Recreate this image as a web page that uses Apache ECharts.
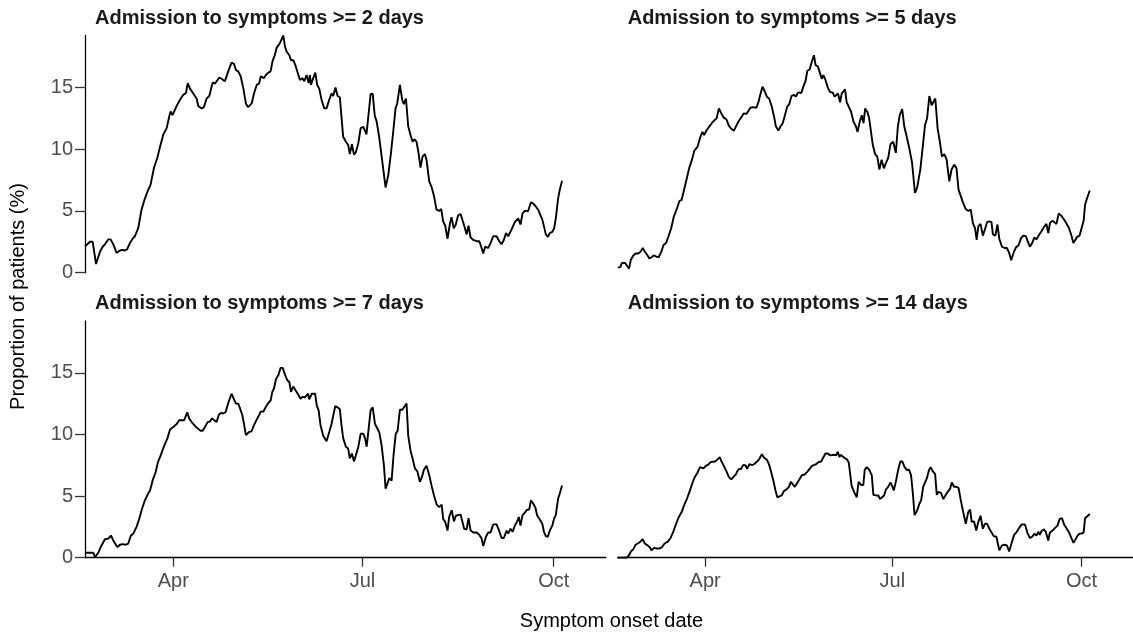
<!DOCTYPE html>
<html><head><meta charset="utf-8">
<script src="https://cdn.jsdelivr.net/npm/echarts@6/dist/echarts.min.js"></script>
<style>html,body{margin:0;padding:0;background:#fff}#c{width:1133px;height:636px}</style>
</head><body><div id="c"></div><script>
// x values: days since 1 April 2020
const panelTitles = ['Admission to symptoms >= 2 days','Admission to symptoms >= 5 days','Admission to symptoms >= 7 days','Admission to symptoms >= 14 days'];
const xTitle = 'Symptom onset date';
const yTitle = 'Proportion of patients (%)';
const monthTickDays = [0, 91, 183];
const monthTickLabels = ['Apr', 'Jul', 'Oct'];
const yTicks = [0, 5, 10, 15];
const xMin = -42.5, xMax = 208, yMax = 19.2;

const p2days = [[-42.5,2.13],[-40.1,2.5],[-38.8,2.5],[-37.2,0.7],[-35.3,1.7],[-34.0,2.1],[-32.9,2.3],[-31.3,2.7],[-30.2,2.7],[-28.9,2.3],[-27.3,1.6],[-25.7,1.8],[-24.4,1.85],[-23.3,1.8],[-22.2,1.9],[-20.9,2.4],[-19.6,2.75],[-18.5,2.95],[-16.9,3.6],[-15.3,5.1],[-13.7,6.0],[-12.1,6.7],[-11.0,7.1],[-9.3,8.5],[-7.7,9.3],[-6.4,10.2],[-4.8,11.2],[-3.2,11.7],[-1.9,12.7],[-1.3,13.05],[-0.4,12.75],[1.6,13.5],[3.2,14.0],[4.8,14.4],[6.1,14.55],[6.9,15.35],[8.0,14.9],[9.6,14.5],[11.2,14.1],[12.0,13.5],[13.6,13.3],[14.7,13.4],[16.0,14.1],[17.3,14.3],[18.9,15.4],[20.0,15.3],[20.8,15.25],[22.1,15.8],[23.2,15.7],[24.8,15.5],[26.4,16.3],[28.0,17.0],[29.2,16.9],[30.1,16.4],[31.2,16.3],[32.4,15.9],[33.7,14.9],[34.9,13.7],[36.0,13.4],[37.7,13.7],[38.8,14.5],[40.1,15.2],[41.2,15.3],[42.1,15.9],[43.6,15.75],[44.5,16.0],[45.7,16.2],[46.8,16.3],[47.7,17.1],[48.8,17.6],[49.7,18.2],[50.5,18.3],[51.3,18.6],[51.8,18.5],[52.9,19.2],[53.7,18.3],[54.5,17.9],[55.8,17.6],[56.6,17.2],[57.7,17.2],[58.7,16.8],[59.6,16.3],[60.9,15.6],[62.0,15.75],[63.0,15.5],[64.1,16.0],[65.1,15.35],[65.7,16.0],[66.2,15.2],[67.3,15.75],[68.3,16.2],[69.2,15.2],[70.2,14.9],[71.3,14.0],[72.6,13.3],[73.7,13.3],[75.0,14.0],[76.1,14.5],[76.9,14.3],[78.0,15.0],[79.0,14.3],[80.1,14.2],[81.7,11.0],[83.0,10.6],[84.1,10.35],[84.9,9.6],[85.9,10.4],[86.9,9.55],[87.8,9.75],[89.0,10.5],[90.1,11.7],[91.4,11.8],[92.3,11.85],[92.9,11.2],[93.9,12.8],[94.9,14.45],[95.9,14.5],[96.9,12.7],[97.8,12.25],[99.1,10.9],[100.3,9.3],[102.1,6.9],[103.4,7.9],[104.6,9.55],[105.8,11.45],[106.9,13.3],[107.7,13.7],[109.0,15.2],[110.1,14.0],[110.9,13.65],[111.9,14.1],[113.0,11.85],[114.1,11.15],[115.1,10.6],[116.0,10.8],[117.0,10.6],[117.9,9.75],[118.9,8.5],[119.9,9.4],[121.0,9.6],[121.8,9.15],[123.1,7.4],[124.3,6.9],[125.4,6.2],[126.6,5.1],[127.9,5.0],[128.9,5.15],[129.8,4.15],[130.8,3.8],[131.9,2.75],[133.0,3.9],[133.8,4.5],[134.9,3.6],[135.9,3.9],[137.0,4.65],[138.2,4.75],[139.1,4.7],[140.3,3.6],[141.1,3.1],[142.0,3.8],[143.0,2.85],[144.3,2.65],[145.9,2.55],[147.2,2.55],[148.3,2.0],[149.1,1.55],[150.0,2.1],[151.5,2.0],[152.6,2.4],[153.9,2.95],[155.5,2.95],[156.8,2.55],[157.9,2.3],[159.0,2.65],[160.0,3.2],[161.1,2.95],[162.7,3.5],[164.3,4.1],[165.9,4.4],[167.0,3.9],[168.0,4.8],[169.1,5.0],[170.7,5.0],[172.0,5.7],[173.1,5.6],[174.2,5.4],[175.5,5.1],[176.3,5.0],[177.5,4.3],[178.3,3.75],[179.2,3.1],[180.2,2.9],[181.1,3.2],[182.3,3.3],[183.2,3.6],[184.0,4.4],[185.1,6.0],[185.9,6.7],[187.0,7.45]];

const p5days = [[-42.5,0.43],[-41.3,0.43],[-40.5,0.78],[-38.9,0.78],[-38.1,0.65],[-37.0,0.33],[-36.1,1.05],[-34.9,1.4],[-33.8,1.55],[-32.5,1.55],[-31.4,1.7],[-30.3,2.0],[-29.3,1.7],[-28.2,1.45],[-27.1,1.15],[-26.1,1.25],[-25.0,1.4],[-23.7,1.3],[-22.6,1.25],[-21.3,1.7],[-20.2,2.25],[-19.0,2.4],[-17.8,2.95],[-16.5,3.6],[-15.2,4.55],[-13.9,5.1],[-12.5,5.8],[-11.4,5.9],[-10.4,6.6],[-9.1,7.5],[-7.7,8.5],[-6.4,9.15],[-5.3,9.85],[-3.7,10.2],[-2.4,10.95],[-1.3,11.4],[-0.5,11.15],[0.8,11.55],[1.9,11.8],[3.2,12.1],[4.6,12.35],[5.6,12.5],[6.7,13.3],[8.0,12.85],[9.1,12.55],[10.4,12.4],[11.5,11.9],[12.7,11.65],[14.0,11.5],[15.2,11.9],[16.4,12.3],[17.5,12.55],[18.8,12.9],[20.1,12.85],[20.9,12.75],[22.0,13.35],[23.3,13.4],[24.9,13.35],[26.0,13.85],[26.8,14.4],[27.9,15.05],[29.2,14.6],[30.0,14.25],[31.1,14.1],[32.4,13.45],[33.5,12.65],[34.4,11.85],[35.6,11.5],[36.7,11.85],[37.7,12.1],[38.8,12.75],[39.9,13.45],[40.9,13.65],[42.0,14.3],[43.1,14.4],[44.1,14.25],[45.2,14.6],[46.0,14.65],[46.8,14.55],[47.6,15.0],[48.8,15.5],[49.7,16.35],[50.8,16.45],[51.9,17.1],[52.9,17.6],[53.7,16.8],[54.8,16.7],[55.6,16.55],[56.7,15.7],[57.5,16.0],[58.5,15.6],[59.6,15.0],[60.8,14.6],[62.0,14.6],[62.9,14.25],[63.7,14.1],[64.6,14.5],[65.6,13.8],[66.4,14.5],[67.2,14.65],[68.0,14.85],[68.8,13.8],[69.7,13.8],[70.9,13.05],[72.2,12.2],[73.3,11.85],[74.1,11.4],[75.2,12.25],[76.2,12.75],[77.0,12.1],[77.8,13.3],[78.9,13.0],[79.7,12.55],[80.5,12.4],[81.5,10.35],[82.6,9.6],[83.7,9.4],[84.7,8.35],[85.8,9.15],[86.9,8.45],[88.2,9.0],[89.0,9.3],[90.1,10.4],[91.4,10.6],[92.7,9.7],[93.7,11.85],[94.6,12.75],[95.8,13.25],[96.8,11.85],[97.8,11.15],[99.1,10.2],[100.6,8.9],[102.0,6.45],[103.1,6.9],[104.6,8.35],[105.8,10.2],[106.9,11.95],[107.9,12.5],[109.0,14.3],[110.1,13.55],[110.9,13.65],[111.9,14.1],[113.0,11.7],[114.2,10.5],[115.1,9.4],[116.3,9.6],[117.4,9.15],[118.7,7.4],[119.8,8.35],[121.1,8.75],[122.2,8.45],[123.2,6.7],[124.3,6.2],[125.4,5.65],[126.7,5.15],[128.0,5.0],[129.1,5.1],[130.2,4.0],[131.2,3.6],[132.0,2.65],[132.8,3.75],[133.9,3.95],[135.0,3.0],[136.0,3.5],[137.1,4.1],[138.2,4.15],[139.2,4.1],[139.9,3.1],[141.1,3.0],[142.1,3.9],[143.0,2.75],[144.3,2.1],[145.6,2.0],[146.7,2.0],[147.8,1.6],[148.8,1.0],[149.9,1.6],[151.1,2.05],[152.3,2.2],[153.6,2.8],[154.7,3.0],[155.9,2.95],[156.8,2.55],[157.9,2.1],[159.0,2.4],[160.0,2.85],[161.1,2.7],[162.3,3.05],[163.5,3.35],[164.7,3.7],[165.9,3.95],[166.8,3.2],[167.7,4.05],[168.9,4.2],[169.7,4.15],[170.8,3.95],[171.9,4.8],[173.2,4.6],[174.3,4.35],[175.6,4.0],[176.9,3.6],[178.0,3.05],[179.0,2.4],[179.9,2.4],[180.9,2.9],[182.0,3.0],[183.0,3.6],[184.0,4.2],[184.7,5.5],[185.7,6.05],[187.0,6.65]];

const p7days = [[-42.5,0.4],[-40.9,0.4],[-38.5,0.4],[-37.7,0.05],[-36.9,0.0],[-36.1,0.4],[-35.0,0.85],[-33.7,1.25],[-32.9,1.5],[-31.3,1.55],[-30.0,1.8],[-28.9,1.4],[-27.8,1.1],[-26.8,0.85],[-25.7,1.05],[-24.4,1.1],[-23.0,1.05],[-21.7,1.15],[-20.4,1.8],[-19.3,1.95],[-17.7,2.5],[-16.4,3.15],[-15.1,3.95],[-13.7,4.65],[-12.4,5.1],[-11.2,5.45],[-10.0,6.25],[-8.5,6.95],[-7.4,7.75],[-6.1,8.3],[-4.8,8.9],[-3.6,9.4],[-2.8,9.7],[-1.6,10.4],[-0.8,10.25],[0.3,10.65],[1.6,10.85],[2.8,11.15],[3.9,11.15],[5.2,11.15],[6.0,11.3],[6.7,11.8],[7.6,11.3],[8.8,11.0],[9.9,10.8],[10.9,10.6],[12.0,10.45],[13.1,10.3],[14.1,10.3],[15.2,10.6],[16.5,11.0],[17.6,11.05],[18.6,11.3],[19.5,11.2],[20.8,11.0],[21.9,11.6],[22.9,11.75],[24.0,11.7],[25.1,11.8],[26.4,12.55],[28.0,13.3],[29.2,12.85],[30.1,12.5],[31.2,12.5],[32.0,12.15],[33.2,11.55],[34.1,10.75],[34.9,9.95],[35.7,9.8],[36.5,10.2],[37.6,10.25],[38.8,10.75],[40.1,11.2],[41.2,11.55],[42.0,11.85],[43.3,11.85],[44.4,12.2],[45.7,12.55],[46.8,12.75],[47.6,13.45],[48.4,13.7],[49.4,14.5],[50.5,14.8],[51.6,15.4],[52.6,15.4],[53.7,14.85],[54.8,14.4],[55.8,14.25],[56.6,13.45],[57.7,13.9],[58.5,13.65],[59.3,13.45],[60.2,13.2],[61.2,12.9],[62.2,13.05],[63.3,13.0],[64.1,13.05],[64.8,13.3],[65.4,12.85],[66.1,12.7],[66.6,13.3],[67.4,13.3],[68.2,13.3],[69.0,12.35],[69.9,11.95],[70.8,10.75],[72.1,9.9],[73.7,9.45],[75.0,10.2],[76.1,10.85],[76.9,10.75],[77.9,12.3],[79.0,12.2],[80.1,12.05],[80.9,10.75],[81.7,9.7],[83.0,9.0],[84.1,8.85],[84.9,8.05],[85.9,8.45],[86.9,7.8],[87.8,8.3],[89.0,9.0],[90.1,10.05],[91.4,10.05],[92.2,9.7],[93.0,9.0],[93.8,10.2],[94.9,11.95],[95.9,12.2],[97.0,10.85],[98.1,10.5],[99.1,10.15],[100.2,9.1],[101.3,7.5],[102.1,5.6],[102.9,5.5],[103.9,6.45],[105.0,6.25],[106.0,8.45],[107.0,10.05],[107.9,10.3],[109.0,12.0],[110.1,12.0],[110.9,12.1],[112.2,12.5],[113.0,9.9],[114.1,8.7],[115.1,8.05],[116.2,7.25],[117.4,7.0],[118.6,6.15],[119.6,6.55],[120.6,7.15],[121.8,7.45],[123.1,6.7],[124.3,5.8],[125.4,5.05],[126.7,4.3],[127.9,4.1],[129.1,4.3],[129.8,3.15],[130.8,2.9],[131.9,2.2],[132.7,3.3],[133.9,3.85],[135.0,2.95],[135.9,3.4],[137.0,3.45],[138.2,3.5],[139.1,3.45],[139.9,2.35],[141.1,2.3],[142.0,3.2],[143.0,2.2],[144.3,2.05],[145.9,2.05],[147.2,1.85],[148.3,1.55],[149.1,0.95],[150.4,1.7],[151.5,2.05],[152.6,2.05],[153.9,2.7],[155.5,2.7],[156.8,2.15],[157.9,1.6],[159.0,1.6],[160.3,2.2],[161.1,1.95],[162.2,2.35],[163.2,2.1],[164.3,2.6],[165.4,2.95],[166.2,3.3],[167.0,2.6],[168.0,3.45],[169.1,3.65],[170.2,3.9],[171.2,3.9],[172.0,4.65],[173.1,4.4],[174.2,4.05],[175.0,3.45],[176.3,3.1],[177.5,2.75],[178.3,2.1],[179.2,1.75],[180.2,1.7],[181.1,2.2],[182.3,2.6],[183.2,3.2],[184.0,3.45],[185.1,4.8],[185.9,5.2],[187.0,5.85]];

const p14days = [[-42.5,0.0],[-38.1,0.0],[-37.0,0.2],[-36.1,0.5],[-34.9,0.7],[-33.8,1.05],[-32.9,1.2],[-31.8,1.25],[-30.4,1.5],[-29.3,1.15],[-28.0,1.0],[-26.9,0.85],[-26.1,0.6],[-24.8,0.8],[-23.7,0.75],[-22.1,0.75],[-21.0,0.85],[-19.7,1.15],[-18.1,1.3],[-16.8,1.6],[-15.5,2.1],[-14.1,2.75],[-12.8,3.3],[-11.4,3.7],[-10.1,4.3],[-8.8,4.8],[-7.5,5.4],[-6.3,6.0],[-5.0,6.55],[-3.7,6.9],[-2.5,7.35],[-1.8,7.45],[-0.8,7.25],[0.3,7.45],[1.5,7.55],[2.7,7.75],[3.5,7.85],[4.7,7.8],[5.9,7.95],[7.1,8.15],[8.0,7.8],[9.1,7.45],[10.4,7.0],[11.5,6.55],[12.7,6.35],[13.6,6.25],[15.1,6.8],[15.6,7.0],[16.4,7.2],[17.5,7.2],[18.4,7.5],[19.6,7.5],[20.4,7.2],[21.6,7.6],[22.8,7.5],[23.9,7.6],[25.2,7.8],[26.3,8.0],[27.6,8.4],[28.7,8.1],[30.0,7.95],[31.1,7.55],[32.1,6.95],[33.2,6.25],[34.2,5.45],[35.1,4.9],[36.0,5.05],[37.2,5.05],[38.3,5.4],[39.6,5.55],[40.7,5.75],[41.7,6.15],[42.5,6.15],[43.6,5.75],[44.9,6.1],[46.0,6.4],[47.1,6.7],[48.4,6.75],[49.5,6.95],[50.8,7.2],[51.9,7.45],[52.7,7.45],[54.0,7.6],[55.1,7.75],[56.4,7.8],[57.5,8.15],[58.5,8.45],[59.6,8.45],[60.8,8.3],[61.7,8.45],[62.5,8.35],[63.7,8.3],[64.5,8.6],[65.3,8.15],[65.8,8.35],[66.6,8.3],[67.7,8.1],[68.8,8.0],[69.8,7.75],[70.4,6.95],[71.2,5.85],[72.5,5.3],[73.7,4.9],[74.6,6.15],[75.8,5.9],[76.9,5.9],[77.6,7.15],[78.6,7.35],[79.7,7.15],[81.0,6.7],[81.8,5.1],[83.1,5.05],[84.2,5.05],[85.0,4.75],[86.0,4.9],[87.0,5.05],[87.9,5.55],[89.0,5.75],[90.1,6.1],[91.1,5.75],[91.7,5.45],[92.7,6.15],[93.8,7.1],[94.9,7.8],[95.9,7.8],[97.0,7.35],[98.1,7.1],[99.1,7.15],[100.1,6.7],[101.0,5.2],[101.8,3.45],[103.1,3.85],[104.2,4.4],[105.0,4.65],[106.0,5.75],[106.9,5.85],[107.8,6.45],[108.8,7.1],[109.6,7.35],[110.7,7.0],[111.8,6.8],[112.6,5.1],[113.5,5.35],[114.7,5.25],[115.8,4.75],[117.0,5.1],[118.2,5.4],[119.1,5.6],[119.9,6.1],[121.0,5.75],[122.2,5.75],[123.2,5.65],[124.3,4.65],[125.4,3.75],[126.7,2.75],[127.9,3.7],[128.8,3.9],[129.6,2.9],[130.7,2.95],[131.8,2.2],[132.8,2.9],[133.9,3.4],[135.0,2.35],[136.0,2.75],[137.1,2.75],[138.3,2.3],[139.2,2.15],[140.3,1.75],[141.6,1.7],[143.0,0.6],[144.3,1.0],[145.6,1.05],[146.7,1.0],[147.8,0.5],[149.1,1.25],[150.2,1.85],[151.5,2.1],[152.6,2.4],[153.9,2.7],[155.5,2.7],[156.8,1.95],[157.9,1.6],[159.0,1.7],[160.0,1.95],[161.1,1.8],[161.9,2.1],[162.7,1.85],[163.5,2.15],[164.7,2.3],[165.6,2.1],[166.8,1.4],[167.6,2.05],[168.9,2.2],[170.0,2.4],[171.3,2.6],[172.4,3.15],[173.5,3.2],[174.5,2.7],[175.6,2.4],[176.9,2.05],[178.0,1.6],[179.1,1.2],[179.9,1.3],[180.9,1.75],[182.0,1.95],[183.0,1.95],[184.0,2.05],[184.7,3.2],[185.5,3.3],[187.0,3.55]];

const panelData = [p2days, p5days, p7days, p14days];

const FONT = '"Liberation Sans", Arial, Helvetica, sans-serif';
const panelBoxes = [
  {left: 85, top: 35.5, width: 520.7, height: 237.2},
  {left: 617.7, top: 35.5, width: 520.7, height: 237.2},
  {left: 85, top: 321, width: 520.7, height: 236.7},
  {left: 617.7, top: 321, width: 520.7, height: 236.7}
];

const grid = [], xAxis = [], yAxis = [], series = [], graphic = [];
panelBoxes.forEach((b, i) => {
  const isLeft = i % 2 === 0, isBottom = i >= 2;
  grid.push(Object.assign({containLabel: false}, b));
  xAxis.push({
    gridIndex: i, type: 'value', min: xMin, max: xMax,
    splitLine: {show: false},
    axisLine: {show: isBottom, onZero: false, lineStyle: {color: '#000', width: 1.3}},
    axisTick: {show: isBottom, customValues: monthTickDays, length: 9, lineStyle: {color: '#333', width: 1.3}},
    axisLabel: {show: isBottom, customValues: monthTickDays, margin: 14,
      formatter: v => monthTickLabels[monthTickDays.indexOf(v)] || '',
      color: '#4d4d4d', fontSize: 20, fontFamily: FONT}
  });
  yAxis.push({
    gridIndex: i, type: 'value', min: 0, max: yMax,
    splitLine: {show: false},
    axisLine: {show: isLeft, onZero: false, lineStyle: {color: '#000', width: 1.3}},
    axisTick: {show: isLeft, customValues: yTicks, length: 10, lineStyle: {color: '#333', width: 1.3}},
    axisLabel: {show: isLeft, customValues: yTicks, margin: 12,
      color: '#4d4d4d', fontSize: 20, fontFamily: FONT}
  });
  series.push({
    type: 'line', xAxisIndex: i, yAxisIndex: i, data: panelData[i],
    showSymbol: false, symbol: 'none', smooth: false,
    lineStyle: {color: '#000', width: 1.9}, silent: true, clip: true
  });
  graphic.push({
    type: 'text', x: b.left + 10, y: b.top - (isBottom ? 18 : 17),
    style: {text: panelTitles[i], fill: '#1a1a1a', font: 'bold 20px ' + FONT,
      textAlign: 'left', textVerticalAlign: 'middle'}
  });
});
graphic.push({
  type: 'text', x: 611.5, y: 621,
  style: {text: xTitle, fill: '#000', font: '20px ' + FONT, textAlign: 'center', textVerticalAlign: 'middle'}
});
graphic.push({
  type: 'text', x: 18, y: 296.5, rotation: Math.PI / 2,
  style: {text: yTitle, fill: '#000', font: '20px ' + FONT, textAlign: 'center', textVerticalAlign: 'middle'}
});

const chart = echarts.init(document.getElementById('c'), null, {renderer: 'canvas'});
chart.setOption({animation: false, backgroundColor: '#fff', grid, xAxis, yAxis, series, graphic});
</script></body></html>
